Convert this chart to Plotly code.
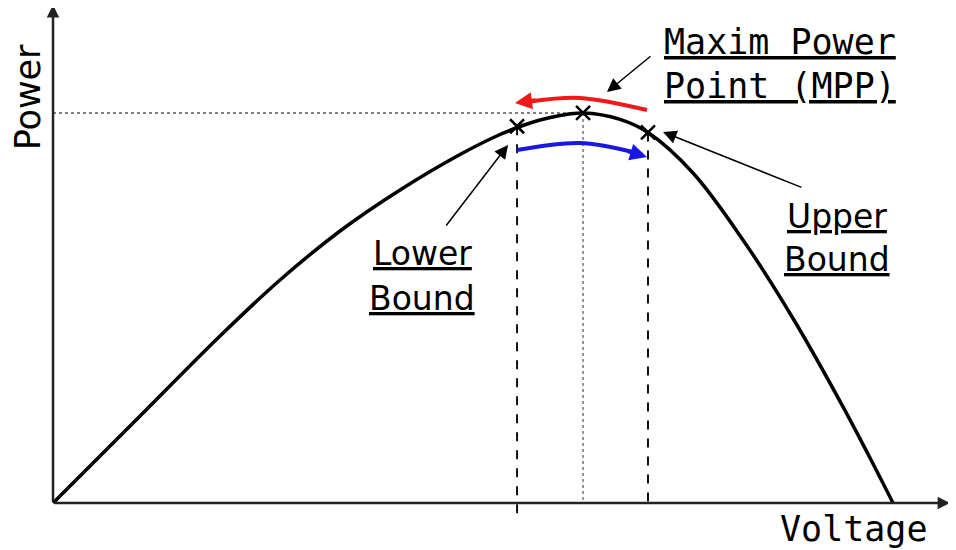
import plotly.graph_objects as go

# ---------------- data (normalised: V / Voc, P / Pmpp) ----------------
voltage = [0.0, 0.1036, 0.1988, 0.2702, 0.3417, 0.4131, 0.4845, 0.5321, 0.5560,
           0.5798, 0.6036, 0.6310, 0.6750, 0.7083, 0.7619, 0.8214, 0.8810,
           0.9405, 0.9702, 1.0]
power = [0.0, 0.2231, 0.4282, 0.5718, 0.6974, 0.8026, 0.8936, 0.9449, 0.9654,
         0.9821, 0.9936, 1.0, 0.9838, 0.9500, 0.8462, 0.6744, 0.4731,
         0.2467, 0.1256, 0.0]

mpp_v, mpp_p = 0.6310, 1.0
lower_v, lower_p = 0.5524, 0.9660
upper_v, upper_p = 0.7083, 0.9500

# scan arrows (red: upper -> lower, blue: lower -> upper)
red_v = [0.7071, 0.6274, 0.5700]
red_p = [1.0077, 1.0385, 1.0300]
blue_v = [0.5524, 0.6274, 0.6900]
blue_p = [0.9051, 0.9231, 0.9000]
red_tip = (0.5500, 1.0256)
blue_tip = (0.7071, 0.8872)

axis_v_max = 1.068
axis_p_max = 1.277

# ---------------- figure ----------------
fig = go.Figure()

# guide lines
fig.add_trace(go.Scatter(x=[0, mpp_v], y=[mpp_p, mpp_p], mode="lines",
                         line=dict(color="#555555", width=1.5, dash="dot"),
                         hoverinfo="skip"))
fig.add_trace(go.Scatter(x=[mpp_v, mpp_v], y=[mpp_p, 0], mode="lines",
                         line=dict(color="#777777", width=1.5, dash="dot"),
                         hoverinfo="skip"))
fig.add_trace(go.Scatter(x=[lower_v, lower_v], y=[lower_p, -0.03], mode="lines",
                         line=dict(color="#111111", width=2, dash="dash"),
                         hoverinfo="skip"))
fig.add_trace(go.Scatter(x=[upper_v, upper_v], y=[upper_p, 0], mode="lines",
                         line=dict(color="#111111", width=2, dash="dash"),
                         hoverinfo="skip"))

# P-V curve
fig.add_trace(go.Scatter(x=voltage, y=power, mode="lines",
                         line=dict(color="black", width=3.5, shape="spline", smoothing=1.0),
                         hoverinfo="skip"))

# red / blue scan arrows
fig.add_trace(go.Scatter(x=red_v, y=red_p, mode="lines",
                         line=dict(color="#f01818", width=4, shape="spline"),
                         hoverinfo="skip"))
fig.add_trace(go.Scatter(x=blue_v, y=blue_p, mode="lines",
                         line=dict(color="#1818e0", width=4, shape="spline"),
                         hoverinfo="skip"))

# X markers
fig.add_trace(go.Scatter(x=[lower_v, mpp_v, upper_v], y=[lower_p, mpp_p, upper_p],
                         mode="markers",
                         marker=dict(symbol="x-thin", size=14,
                                     line=dict(color="black", width=2.5)),
                         hoverinfo="skip"))

annotations = []

# axes with arrowheads
annotations.append(dict(x=axis_v_max, y=0, ax=0, ay=0, xref="x", yref="y",
                        axref="x", ayref="y", text="", showarrow=True,
                        arrowhead=2, arrowsize=1, arrowwidth=2.5, arrowcolor="#222222"))
annotations.append(dict(x=0, y=axis_p_max, ax=0, ay=0, xref="x", yref="y",
                        axref="x", ayref="y", text="", showarrow=True,
                        arrowhead=2, arrowsize=1, arrowwidth=2.5, arrowcolor="#222222"))

# heads for the red / blue arrows
annotations.append(dict(x=red_tip[0], y=red_tip[1], ax=22, ay=-3, text="", showarrow=True,
                        arrowhead=2, arrowsize=0.85, arrowwidth=4, arrowcolor="#f01818"))
annotations.append(dict(x=blue_tip[0], y=blue_tip[1], ax=-20, ay=-6, text="", showarrow=True,
                        arrowhead=2, arrowsize=0.85, arrowwidth=4, arrowcolor="#1818e0"))

# black pointer arrows
annotations.append(dict(x=0.6595, y=1.0538, ax=45, ay=-37, text="", showarrow=True,
                        arrowhead=2, arrowsize=1.8, arrowwidth=1.5, arrowcolor="black"))
annotations.append(dict(x=0.5417, y=0.9180, ax=-63, ay=82, text="", showarrow=True,
                        arrowhead=2, arrowsize=1.8, arrowwidth=1.5, arrowcolor="black"))
annotations.append(dict(x=0.7262, y=0.9513, ax=140, ay=56, text="", showarrow=True,
                        arrowhead=2, arrowsize=1.8, arrowwidth=1.5, arrowcolor="black"))

mono = dict(family="DejaVu Sans Mono", size=35, color="black")
sans = dict(family="DejaVu Sans", size=33, color="black")

annotations.append(dict(x=0.7250, y=1.1808, text="<u>Maxim Power</u>", showarrow=False,
                        xanchor="left", yanchor="middle", font=mono))
annotations.append(dict(x=0.7250, y=1.0705, text="<u>Point (MPP)</u>", showarrow=False,
                        xanchor="left", yanchor="middle", font=mono))
annotations.append(dict(x=0.8630, y=-0.0654, text="Voltage", showarrow=False,
                        xanchor="left", yanchor="middle", font=mono))
annotations.append(dict(x=-0.0300, y=1.0397, text="Power", showarrow=False, textangle=-90,
                        xanchor="center", yanchor="middle",
                        font=dict(family="DejaVu Sans", size=35, color="black")))
annotations.append(dict(x=0.4393, y=0.6410, text="<u>Lower</u>", showarrow=False,
                        xanchor="center", yanchor="middle", font=sans))
annotations.append(dict(x=0.4393, y=0.5256, text="<u>Bound</u>", showarrow=False,
                        xanchor="center", yanchor="middle", font=sans))
annotations.append(dict(x=0.9333, y=0.7346, text="<u>Upper</u>", showarrow=False,
                        xanchor="center", yanchor="middle", font=sans))
annotations.append(dict(x=0.9333, y=0.6244, text="<u>Bound</u>", showarrow=False,
                        xanchor="center", yanchor="middle", font=sans))

# the page body adds an 8 px offset, so the ranges are shifted to compensate
fig.update_layout(
    width=956, height=550,
    margin=dict(l=0, r=0, t=0, b=0),
    plot_bgcolor="white", paper_bgcolor="white",
    showlegend=False,
    xaxis=dict(range=[-0.0536, 1.0845], visible=False, fixedrange=True),
    yaxis=dict(range=[-0.1410, 1.2692], visible=False, fixedrange=True),
    annotations=annotations,
)

fig.write_html("out.html")
